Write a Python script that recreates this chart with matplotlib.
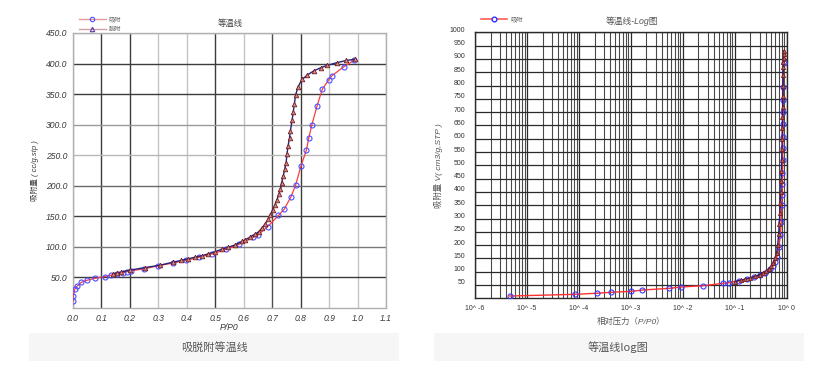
import matplotlib
matplotlib.use('Agg')
import matplotlib.pyplot as plt
from matplotlib.lines import Line2D
from matplotlib.patches import Rectangle
from matplotlib.ticker import FixedLocator, FixedFormatter, LogLocator, NullFormatter
from matplotlib.transforms import ScaledTranslation

plt.rcParams['font.family'] = ['Liberation Sans', 'Noto Sans CJK SC']

# ---------------- data: left panel (linear isotherm) ----------------
ads_x = [0.000, 0.001, 0.006, 0.015, 0.029, 0.050, 0.076, 0.112, 0.135, 0.155,
         0.176, 0.190, 0.205, 0.250, 0.298, 0.350, 0.398, 0.442, 0.490, 0.539,
         0.582, 0.633, 0.651, 0.684, 0.722, 0.742, 0.766, 0.782, 0.801, 0.820,
         0.829, 0.839, 0.858, 0.876, 0.898, 0.910, 0.951, 0.988]
ads_y = [11, 20, 31, 36, 42, 45.5, 48.5, 51.5, 54, 56,
         58, 59.5, 61, 64, 69, 73.5, 78, 83, 88.6, 96,
         104, 115.5, 120, 133, 151.5, 161.5, 182, 200.5, 232, 258,
         279, 299, 331, 358, 373, 380, 394.5, 405.5]
des_x = [0.140, 0.155, 0.170, 0.200, 0.252, 0.305, 0.352, 0.381, 0.405, 0.428,
         0.452, 0.475, 0.499, 0.522, 0.546, 0.569, 0.594, 0.606, 0.623, 0.641,
         0.653, 0.664, 0.676, 0.685, 0.694, 0.702, 0.710, 0.717, 0.723, 0.729,
         0.733, 0.739, 0.744, 0.749, 0.752, 0.756, 0.761, 0.764, 0.770, 0.774,
         0.778, 0.782, 0.791, 0.805, 0.823, 0.846, 0.870, 0.893, 0.928, 0.960, 0.990]
des_y = [56, 57.5, 59, 62, 66, 70, 75, 78, 80.5, 83,
         85.5, 88.5, 92, 96, 99.5, 103, 109, 112, 116, 121,
         125, 131, 138, 145, 153, 161, 169, 177.5, 186, 194,
         205, 216, 227, 238, 252, 265.5, 279, 290, 307, 321,
         334, 348, 362, 374, 381, 388, 393, 397, 401.5, 405, 407]
left_xticks = [0.0, 0.1, 0.2, 0.3, 0.4, 0.5, 0.6, 0.7, 0.8, 0.9, 1.0, 1.1]
left_yticks = [50, 100, 150, 200, 250, 300, 350, 400, 450]

# ---------------- data: right panel (log isotherm) ----------------
log_ads_x = [4.7e-6, 8.5e-5, 2.2e-4, 4.1e-4, 1.0e-3, 1.66e-3, 5.5e-3, 9.4e-3, 0.0246, 0.059,
             0.079, 0.119, 0.172, 0.23, 0.31, 0.39, 0.47, 0.545, 0.60, 0.65,
             0.71, 0.753, 0.787, 0.805, 0.815, 0.82, 0.83, 0.835, 0.84, 0.845,
             0.85, 0.855, 0.86, 0.865, 0.87]
log_ads_y = [8.6, 15, 19, 22.5, 26, 31, 37.5, 42.5, 47.4, 56,
             59, 66, 72.6, 79, 87.6, 96, 109, 121, 138, 156,
             194, 238, 288, 351, 390, 428, 472, 520, 564, 607,
             654, 699, 745, 793, 883]
log_des_x = [0.10, 0.13, 0.16, 0.20, 0.25, 0.30, 0.35, 0.40, 0.45, 0.50,
             0.55, 0.60, 0.64, 0.67, 0.70, 0.72, 0.74, 0.755, 0.77, 0.78,
             0.79, 0.80, 0.81, 0.815, 0.82, 0.83, 0.835, 0.84, 0.85, 0.855,
             0.86, 0.865, 0.87, 0.875, 0.88]
log_des_y = [63, 68, 72, 77, 83, 89, 95, 101, 110, 120,
             133, 150, 172, 200, 240, 280, 320, 360, 400, 440,
             480, 520, 560, 600, 640, 680, 720, 760, 800, 840,
             870, 890, 905, 918, 931]
log_xticks = [1e-6, 1e-5, 1e-4, 1e-3, 1e-2, 1e-1, 1e0]
log_xticklabels = ['10^ -6', '10^ -5', '10^ -4', '10^ -3', '10^ -2', '10^ -1', '10^ 0']
log_yticks = [50, 100, 150, 200, 250, 300, 350, 400, 450, 500,
              550, 600, 650, 700, 750, 800, 850, 900, 950, 1000]

W, H = 834, 381
fig = plt.figure(figsize=(W / 100, H / 100), dpi=100)
fig.patch.set_facecolor('white')


def fx(px):
    return px / W


def fy(py):
    return 1 - py / H


CJK = ['Noto Sans CJK SC', 'Liberation Sans']

# ================= left panel =================
ax1 = fig.add_axes([fx(73), fy(308), fx(386 - 73), (308 - 33) / H])
ax1.plot(ads_x, ads_y, color='#ff3b3b', lw=0.9, marker='o', ms=3.6,
         mfc='none', mec='#4f4fff', mew=0.8, zorder=3)
ax1.plot(des_x, des_y, color='#23237e', lw=1.0, marker='^', ms=3.3,
         mfc='#c98c8c', mec='#7a1c1c', mew=0.6, zorder=4)
ax1.set_xlim(0, 1.1)
ax1.set_ylim(0, 450)
ax1.xaxis.set_major_locator(FixedLocator(left_xticks))
ax1.xaxis.set_major_formatter(FixedFormatter([f'{v:.1f}' for v in left_xticks]))
ax1.yaxis.set_major_locator(FixedLocator(left_yticks))
ax1.yaxis.set_major_formatter(FixedFormatter([f'{v:.1f}' for v in left_yticks]))
ax1.grid(True, color='#888888', lw=1.0, zorder=0)
ax1.set_axisbelow(True)
vshade = ['#b0b0b0', '#3c3c3c', '#3c3c3c', '#c4c4c4', '#c4c4c4', '#3c3c3c',
          '#c4c4c4', '#505050', '#3c3c3c', '#c4c4c4', '#c4c4c4', '#c4c4c4']
hshade = ['#3c3c3c', '#7a7a7a', '#3c3c3c', '#6a6a6a', '#b8b8b8', '#9a9a9a',
          '#3c3c3c', '#3c3c3c', '#c4c4c4']
for gl, c in zip(ax1.get_xgridlines(), vshade):
    gl.set_color(c)
for gl, c in zip(ax1.get_ygridlines(), hshade):
    gl.set_color(c)
for s in ax1.spines.values():
    s.set_color('#b0b0b0')
    s.set_linewidth(1.0)
ax1.tick_params(length=0, labelsize=6.2, labelcolor='#3a3a3a', pad=4)
for lbl in ax1.get_xticklabels() + ax1.get_yticklabels():
    lbl.set_style('italic')
ax1.set_xlabel('P/P0', fontsize=6.2, style='italic', color='#3a3a3a', labelpad=0)
ax1.set_ylabel('吸附量 ( cc/g.stp )', fontsize=5.5, style='italic', color='#3a3a3a',
               labelpad=5)
fig.text(fx(230), fy(23), '等温线', fontsize=6, color='#444444', ha='center', va='center',
         family=CJK, style='italic')

leg1 = fig.legend(handles=[
    Line2D([], [], color='#e89a9a', lw=1, marker='o', ms=3.2, mfc='none', mec='#5050ff', mew=0.8),
    Line2D([], [], color='#d4a0a8', lw=1, marker='^', ms=3.2, mfc='none', mec='#5a3aa0', mew=0.8)],
    labels=['吸附', '脱附'], loc='upper left', bbox_to_anchor=(fx(79), fy(15.5)),
    frameon=False, prop={'family': CJK, 'size': 4.5}, handlelength=4.3,
    handletextpad=0.4, labelspacing=0.3, borderpad=0, borderaxespad=0)
for t in leg1.get_texts():
    t.set_color('#666666')

# ================= right panel =================
ax2 = fig.add_axes([fx(475), fy(298.3), fx(786.7 - 475), 266 / H])
ax2.set_xscale('log')
ax2.plot(log_ads_x, log_ads_y, color='#ff3030', lw=1.0, marker='o', ms=3.6,
         mfc='none', mec='#3a3aff', mew=0.8, zorder=3)
ax2.plot(log_des_x, log_des_y, color='#1f1f7a', lw=1.0, marker='^', ms=3.0,
         mfc='#b06060', mec='#7a1c1c', mew=0.6, zorder=4)
ax2.set_xlim(1e-6, 1)
ax2.set_ylim(0, 1000)
ax2.xaxis.set_major_locator(FixedLocator(log_xticks))
ax2.xaxis.set_major_formatter(FixedFormatter(log_xticklabels))
ax2.xaxis.set_minor_locator(LogLocator(base=10, subs=[2, 3, 4, 5, 6, 7, 8, 9], numticks=20))
ax2.xaxis.set_minor_formatter(NullFormatter())
ax2.yaxis.set_major_locator(FixedLocator(log_yticks))
ax2.yaxis.set_major_formatter(FixedFormatter([str(v) for v in log_yticks]))
ax2.grid(True, which='major', color='#2a2a2a', lw=0.9)
ax2.grid(True, which='minor', axis='x', color='#4a4a4a', lw=0.8)
ax2.set_axisbelow(True)
for s in ax2.spines.values():
    s.set_color('#2a2a2a')
    s.set_linewidth(1.0)
ax2.tick_params(which='both', length=0)
ax2.tick_params(axis='y', labelsize=5, labelcolor='#333333', pad=7)
ax2.tick_params(axis='x', labelsize=5, labelcolor='#333333', pad=5)
for lbl in ax2.get_yticklabels():
    lbl.set_transform(lbl.get_transform() + ScaledTranslation(0, 3 / 100, fig.dpi_scale_trans))
ax2.set_xlabel('相对压力（P/P0）', fontsize=6, style='italic', color='#555555', labelpad=4)
ax2.set_ylabel('吸附量 V( cm3/g,STP )', fontsize=6, style='italic', color='#555555',
               labelpad=5)
fig.text(fx(632), fy(21), '等温线-Log图', fontsize=6.3, color='#555555', ha='center',
         va='center', style='italic')

leg2 = fig.legend(handles=[
    Line2D([], [], color='#ff5a5a', lw=1.2, marker='o', ms=3.4, mfc='white', mec='#3030ff', mew=1.0)],
    labels=['吸附'], loc='center left', bbox_to_anchor=(fx(481), fy(19)),
    frameon=False, prop={'family': CJK, 'size': 4.5}, handlelength=4.2,
    handletextpad=0.5, borderpad=0, borderaxespad=0)
for t in leg2.get_texts():
    t.set_color('#666666')

# ================= captions =================
fig.patches.append(Rectangle((fx(29), fy(360.5)), fx(399 - 29), (360.5 - 332.7) / H,
                             transform=fig.transFigure, facecolor='#f6f6f6', edgecolor='none'))
fig.patches.append(Rectangle((fx(434), fy(360.5)), fx(804 - 434), (360.5 - 332.7) / H,
                             transform=fig.transFigure, facecolor='#f6f6f6', edgecolor='none'))
fig.text(fx(214), fy(347.5), '吸脱附等温线', fontsize=8, color='#555555', ha='center',
         va='center', family=CJK)
fig.text(fx(618), fy(347.5), '等温线log图', fontsize=8, color='#555555', ha='center',
         va='center', family=CJK)

fig.savefig('out.png', dpi=100, facecolor='white')
